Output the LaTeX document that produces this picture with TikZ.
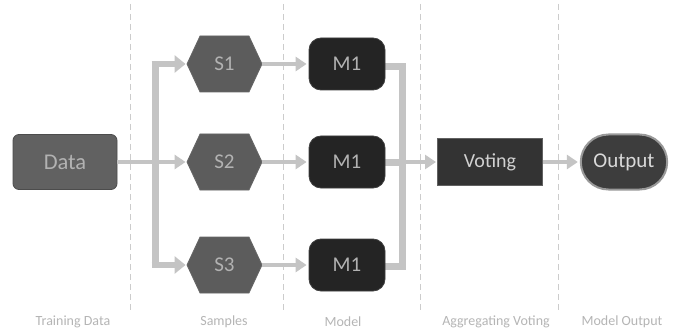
\documentclass[tikz,border=0pt]{standalone}
\usepackage{fontspec}
\setmainfont{Carlito}
\usetikzlibrary{arrows.meta,shapes.symbols,shapes.misc}
\definecolor{barc}{HTML}{C4C4C4}
\definecolor{dashc}{HTML}{CCCCCC}
\definecolor{labc}{HTML}{B5B5B5}
\tikzset{
  guide/.style={draw=dashc, line width=0.9pt, dash pattern=on 6pt off 4pt},
  bar/.style={draw=barc, line width=7pt},
  bararrow/.style={draw=barc, line width=6pt, -{Triangle[length=11pt,width=17pt]}},
  thinarrow/.style={draw=barc, line width=4pt, -{Triangle[length=11pt,width=14pt]}},
  databox/.style={draw=black!70, line width=0.8pt, fill=black!62, rounded corners=6pt, minimum width=104pt, minimum height=55pt, text=black!30, font=\fontsize{22.5}{22.5}\selectfont},
  hexa/.style={signal, signal to=west and east, signal pointer angle=130, draw=black!60, line width=0.8pt, fill=black!64, minimum width=75pt, minimum height=56pt, inner sep=0pt, text=black!30, font=\fontsize{21}{21}\selectfont},
  modelbox/.style={draw=black!75, line width=0.8pt, fill=black!86, rounded corners=12pt, minimum width=76pt, minimum height=52pt, text=black!30, font=\fontsize{21}{21}\selectfont},
  votebox/.style={draw=black!62, line width=1pt, fill=black!80, minimum width=105pt, minimum height=47pt, text=black!18, font=\fontsize{20}{20}\selectfont},
  outbox/.style={rounded rectangle, draw=black!40, line width=2pt, fill=black!76, minimum width=93pt, minimum height=55pt, text=black!15, font=\fontsize{21}{21}\selectfont},
  lab/.style={text=labc, font=\fontsize{14}{14}\selectfont}
}
\begin{document}
\begin{tikzpicture}[x=1pt,y=-1pt]
\useasboundingbox[fill=white] (0,0) rectangle (673,329);
% guides
\coordinate (g1t) at (130,4); \coordinate (g1b) at (130,312);
\coordinate (g2t) at (283,4); \coordinate (g2b) at (283,312);
\coordinate (g3t) at (420,4); \coordinate (g3b) at (420,312);
\coordinate (g4t) at (558,4); \coordinate (g4b) at (558,312);
\draw[guide] (g1t) -- (g1b);
\draw[guide] (g2t) -- (g2b);
\draw[guide] (g3t) -- (g3b);
\draw[guide] (g4t) -- (g4b);
% right aggregation bar (behind the model boxes)
\coordinate (m1e) at (380,67);
\coordinate (m2e) at (380,162);
\coordinate (m3e) at (380,266);
\coordinate (r1) at (399,67);
\coordinate (r2) at (399,162);
\coordinate (r3) at (399,266);
\draw[bar] (m1e) -- ([xshift=3.5pt]r1) -- ([xshift=3.5pt]r3) -- (m3e);
\draw[bar] (m2e) -- (r2);
% nodes
\node[databox] (data) at (65,162) {Data};
\node[hexa] (s1) at (224.5,64) {S1};
\node[hexa] (s2) at (224.5,162) {S2};
\node[hexa] (s3) at (224.5,265) {S3};
\node[modelbox] (m1) at (347,64) {M1};
\node[modelbox] (m2) at (347,162) {M1};
\node[modelbox] (m3) at (347,265) {M1};
\node[votebox] (vote) at (490,162) {Voting};
\node[outbox] (out) at (624,162) {Output};
% left distribution bar
\coordinate (l1) at (155,64);
\coordinate (l3) at (155,265);
\draw[bar] (l1) -- (l3);
\draw[bararrow] ([xshift=-3.5pt]l1) -- ([xshift=-1pt]s1.west);
\draw[bararrow] ([xshift=-3.5pt]l3) -- ([xshift=-1pt]s3.west);
\draw[thinarrow] (data.east) -- ([xshift=-1pt]s2.west);
% sample to model
\draw[thinarrow] (s1.east) -- ([xshift=-2pt]m1.west);
\draw[thinarrow] (s2.east) -- ([xshift=-2pt]m2.west);
\draw[thinarrow] (s3.east) -- ([xshift=-2pt]m3.west);
% to voting and output
\draw[thinarrow] (r2) -- ([xshift=-1pt]vote.west);
\draw[thinarrow] (vote.east) -- ([xshift=-2pt]out.west);
% labels
\node[lab] (t1) at (73,322) {Training Data};
\node[lab] (t2) at (224,322) {Samples};
\node[lab] (t3) at (343,322) {Model};
\node[lab] (t4) at (496,322) {Aggregating Voting};
\node[lab] (t5) at (622,322) {Model Output};
\end{tikzpicture}
\end{document}
